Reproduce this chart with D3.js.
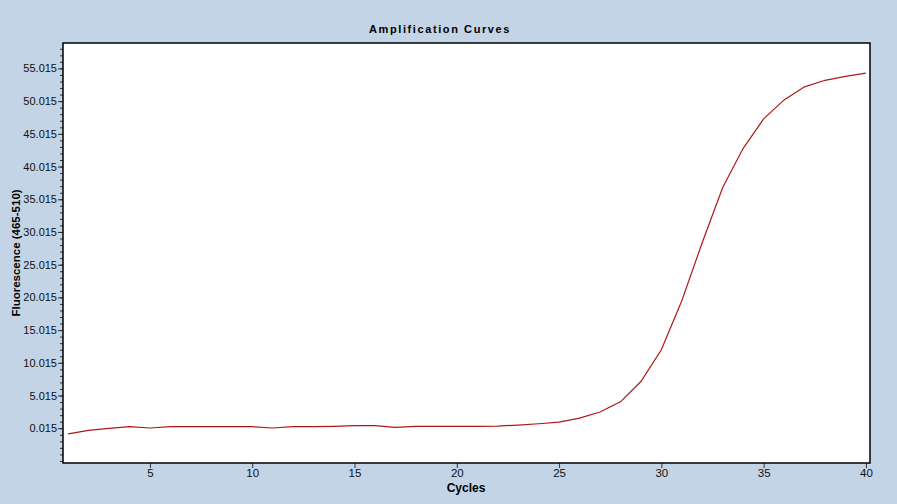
<!DOCTYPE html>
<html>
<head>
<meta charset="utf-8">
<script src="https://cdn.jsdelivr.net/npm/d3@7"></script>
<style>
  body { margin: 0; background: #c3d4e6; }
  svg { display: block; }
  text { font-family: Arial, "Liberation Sans", sans-serif; }
</style>
</head>
<body>
<svg width="897" height="504"></svg>
<script>
// cycles 1..40 and fluorescence
const cycles = d3.range(1, 41);
const fluor = [
  -0.86, -0.3, 0.0, 0.25, 0.05, 0.25, 0.25, 0.25, 0.25, 0.25,
  0.05, 0.25, 0.25, 0.3, 0.4, 0.4, 0.15, 0.3, 0.3, 0.3,
  0.3, 0.35, 0.5, 0.7, 0.95, 1.55, 2.5, 4.05, 7.15, 12.0,
  19.5, 28.4, 36.8, 42.8, 47.3, 50.2, 52.2, 53.2, 53.8, 54.3
];
const xTicks = [5, 10, 15, 20, 25, 30, 35, 40];
const yTicks = d3.range(0, 12).map(k => 0.015 + 5 * k);
const yMinor = d3.range(-5, 59).map(k => 0.015 + k);

const plotL = 63, plotR = 870, plotT = 43, plotB = 463;

const svg = d3.select("svg");

const x = d3.scaleLinear().domain([0.75, 40.2]).range([plotL, plotR]);
const y = d3.scaleLinear().domain([-5.3, 58.9]).range([plotB, plotT]);

svg.append("rect")
  .attr("x", plotL).attr("y", plotT)
  .attr("width", plotR - plotL).attr("height", plotB - plotT)
  .attr("fill", "#fff");

// minor y ticks
svg.append("g")
  .attr("transform", `translate(${plotL},0)`)
  .call(d3.axisLeft(y).tickValues(yMinor.filter(v => v > -5.3 && v < 58.9)).tickSize(3).tickFormat(""))
  .call(g => g.select(".domain").remove())
  .call(g => g.selectAll("line").attr("stroke", "#333"));

const yAxis = svg.append("g")
  .attr("transform", `translate(${plotL},0)`)
  .call(d3.axisLeft(y).tickValues(yTicks).tickSize(5).tickPadding(1).tickFormat(d3.format(".3f")));
yAxis.select(".domain").remove();
yAxis.selectAll("line").attr("stroke", "#333");
yAxis.selectAll("text").attr("font-size", 11).attr("fill", "#111")
  .attr("font-family", "Arial, 'Liberation Sans', sans-serif");

const xAxis = svg.append("g")
  .attr("transform", `translate(0,${plotB})`)
  .call(d3.axisBottom(x).tickValues(xTicks).tickSize(5).tickPadding(1).tickFormat(d3.format("d")));
xAxis.select(".domain").remove();
xAxis.selectAll("line").attr("stroke", "#333");
xAxis.selectAll("text").attr("font-size", 11.5).attr("fill", "#111")
  .attr("font-family", "Arial, 'Liberation Sans', sans-serif");

const line = d3.line()
  .x((d, i) => x(cycles[i]))
  .y(d => y(d));

svg.append("path")
  .datum(fluor)
  .attr("fill", "none")
  .attr("stroke", "#b01818")
  .attr("stroke-width", 1.2)
  .attr("d", line);

svg.append("rect")
  .attr("x", plotL).attr("y", plotT)
  .attr("width", plotR - plotL).attr("height", plotB - plotT)
  .attr("fill", "none").attr("stroke", "#000").attr("stroke-width", 1.5);

svg.append("text")
  .attr("x", 440).attr("y", 33)
  .attr("text-anchor", "middle")
  .attr("font-size", 11).attr("font-weight", "bold")
  .attr("letter-spacing", 1.6)
  .text("Amplification Curves");

svg.append("text")
  .attr("x", 466).attr("y", 492)
  .attr("text-anchor", "middle")
  .attr("font-size", 12).attr("font-weight", "bold")
  .text("Cycles");

svg.append("text")
  .attr("transform", "translate(20,253) rotate(-90)")
  .attr("text-anchor", "middle")
  .attr("font-size", 11.5).attr("font-weight", "bold")
  .text("Fluorescence (465-510)");
</script>
</body>
</html>
